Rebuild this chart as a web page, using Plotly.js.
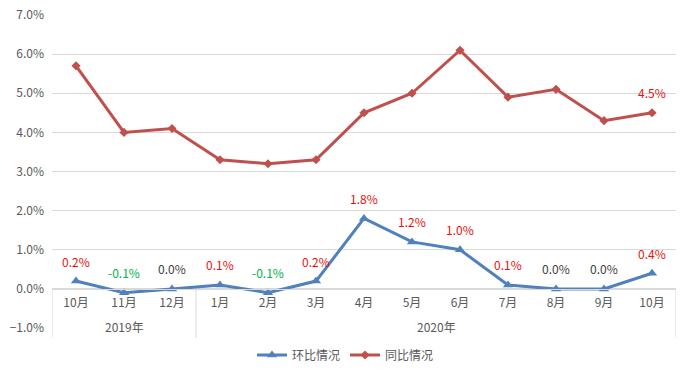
<!DOCTYPE html>
<html><head><meta charset="utf-8">
<script src="https://cdn.plot.ly/plotly-3.0.1.min.js"></script>
<style>html,body{margin:0;padding:0;background:#fff;}#chart{width:691px;height:376px;}</style>
</head><body><div id="chart"></div>
<script>
const months = ["10月","11月","12月","1月","2月","3月","4月","5月","6月","7月","8月","9月","10月"];
const years  = ["2019年","2019年","2019年","2020年","2020年","2020年","2020年","2020年","2020年","2020年","2020年","2020年","2020年"];
const huanbi = [0.2,-0.1,0.0,0.1,-0.1,0.2,1.8,1.2,1.0,0.1,0.0,0.0,0.4];
const tongbi = [5.7,4.0,4.1,3.3,3.2,3.3,4.5,5.0,6.1,4.9,5.1,4.3,4.5];
const seriesNames = ["环比情况","同比情况"];

const idx = months.map((m,i)=>i);
const font = '"Noto Sans CJK SC", "Microsoft YaHei", sans-serif';
const yMin = -1, yMax = 7;
const zeroPos = (0 - yMin) / (yMax - yMin);

function labelColor(v){ return v > 0 ? '#E8120C' : (v < 0 ? '#00B050' : '#404040'); }

const annotations = [];
huanbi.forEach((v,i)=>{
  annotations.push({x:i, y:v, xref:'x', yref:'y', text:v.toFixed(1)+'%', showarrow:false,
    yshift:20, yanchor:'middle', font:{family:font, size:12, color:labelColor(v)}});
});
const last = tongbi.length-1;
annotations.push({x:last, y:tongbi[last], xref:'x', yref:'y', text:tongbi[last].toFixed(1)+'%', showarrow:false,
  yshift:20, yanchor:'middle', font:{family:font, size:12, color:labelColor(tongbi[last])}});

// year group labels and separators
const groups = [];
years.forEach((y,i)=>{
  if(!groups.length || groups[groups.length-1].name!==y) groups.push({name:y,start:i,end:i});
  else groups[groups.length-1].end=i;
});
const shapes = [];
const sepColor = '#d9d9d9';
const belowPaper = -10/313;
groups.forEach((g,k)=>{
  annotations.push({x:(g.start+g.end)/2, y:0.005, xref:'x', yref:'paper', text:g.name, showarrow:false,
    yanchor:'middle', font:{family:font, size:12, color:'#595959'}});
  shapes.push({type:'line', xref:'x', yref:'paper', x0:g.start-0.5, x1:g.start-0.5, y0:zeroPos, y1:belowPaper,
    line:{color:sepColor, width:1}});
  if(k===groups.length-1){
    shapes.push({type:'line', xref:'x', yref:'paper', x0:g.end+0.5, x1:g.end+0.5, y0:zeroPos, y1:belowPaper,
      line:{color:sepColor, width:1}});
  }
});

const traces = [
  {x:idx, y:huanbi, name:seriesNames[0], type:'scatter', mode:'lines+markers',
   line:{color:'#4F81BD', width:3}, marker:{symbol:'triangle-up', size:9, color:'#4F81BD'}, cliponaxis:false},
  {x:idx, y:tongbi, name:seriesNames[1], type:'scatter', mode:'lines+markers',
   line:{color:'#C0504D', width:3}, marker:{symbol:'diamond', size:7, color:'#C0504D'}, cliponaxis:false}
];

const layout = {
  width:691, height:376,
  margin:{l:52, r:15, t:15, b:48},
  paper_bgcolor:'#fff', plot_bgcolor:'#fff',
  font:{family:font, size:12, color:'#595959'},
  hovermode:false,
  xaxis:{range:[-0.5, months.length-0.5], tickvals:idx, ticktext:months, anchor:'free', position:zeroPos,
    showgrid:false, zeroline:false, showline:true, linecolor:sepColor, linewidth:1, ticks:'', ticklabelstandoff:3,
    tickfont:{family:font, size:12, color:'#595959'}},
  yaxis:{range:[yMin, yMax], dtick:1, tickformat:'.1f', ticksuffix:'%', showgrid:true, gridcolor:sepColor, gridwidth:1,
    zeroline:false, showline:false, ticks:'', ticklabelstandoff:7, tickfont:{family:font, size:12, color:'#595959'}},
  legend:{orientation:'h', xref:'container', yref:'container', x:0.5, xanchor:'center', y:0.056, yanchor:'middle',
    font:{family:font, size:12, color:'#595959'}},
  annotations:annotations, shapes:shapes
};
Plotly.newPlot('chart', traces, layout, {displayModeBar:false, staticPlot:true});
</script></body></html>
